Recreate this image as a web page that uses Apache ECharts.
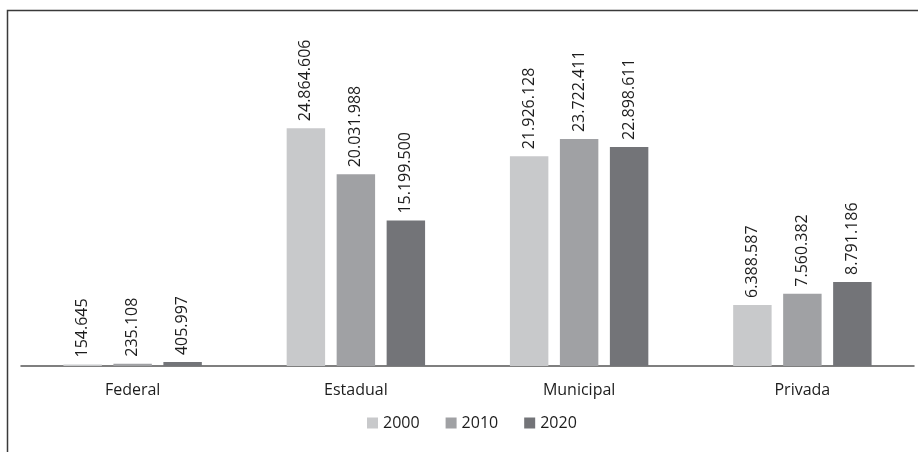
<!DOCTYPE html>
<html>
<head>
<meta charset="utf-8">
<script src="https://cdn.jsdelivr.net/npm/echarts@6/dist/echarts.min.js"></script>
<style>
  html, body { margin: 0; padding: 0; background: #fff; }
  #chart { width: 918px; height: 452px; }
</style>
</head>
<body>
<div id="chart"></div>
<script>
// Enrolments by administrative network, per census year
const categories = ['Federal', 'Estadual', 'Municipal', 'Privada'];
const years = ['2000', '2010', '2020'];
const values2000 = [154645, 24864606, 21926128, 6388587];
const values2010 = [235108, 20031988, 23722411, 7560382];
const values2020 = [405997, 15199500, 22898611, 8791186];
const colors = ['#c8c9cb', '#a0a1a4', '#737478'];

const FONT = '"Open Sans", sans-serif';
const TEXT = '#1c1c1c';
const fmt = v => v.toLocaleString('pt-BR');

const seriesData = [values2000, values2010, values2020];

const chart = echarts.init(document.getElementById('chart'), null, { renderer: 'canvas' });
chart.setOption({
  animation: false,
  backgroundColor: '#ffffff',
  textStyle: { fontFamily: FONT },
  graphic: [{
    type: 'rect',
    shape: { x: 7.5, y: 10.5, width: 1000, height: 1000 },
    style: { fill: 'none', stroke: '#3a3a3a', lineWidth: 1.5 },
    z: 10
  }],
  grid: { left: 21, right: 4, top: 79, bottom: 86 },
  legend: {
    data: years,
    bottom: 16,
    left: 362,
    itemWidth: 11,
    itemHeight: 11,
    itemGap: 26,
    icon: 'rect',
    textStyle: { fontFamily: FONT, fontSize: 16, color: TEXT }
  },
  xAxis: {
    type: 'category',
    data: categories,
    axisLine: { lineStyle: { color: '#555', width: 1.5 } },
    axisTick: { show: false },
    axisLabel: { fontFamily: FONT, fontSize: 16, color: TEXT, margin: 16 }
  },
  yAxis: {
    type: 'value',
    min: 0,
    max: 30000000,
    show: false,
    splitLine: { show: false }
  },
  series: years.map((y, i) => ({
    name: y,
    type: 'bar',
    data: seriesData[i],
    barGap: '30%',
    barCategoryGap: '38%',
    itemStyle: { color: colors[i] },
    label: {
      show: true,
      position: 'top',
      rotate: 90,
      align: 'left',
      verticalAlign: 'middle',
      distance: 7,
      fontFamily: FONT,
      fontSize: 16,
      color: TEXT,
      formatter: p => fmt(p.value)
    }
  }))
});
</script>
</body>
</html>
